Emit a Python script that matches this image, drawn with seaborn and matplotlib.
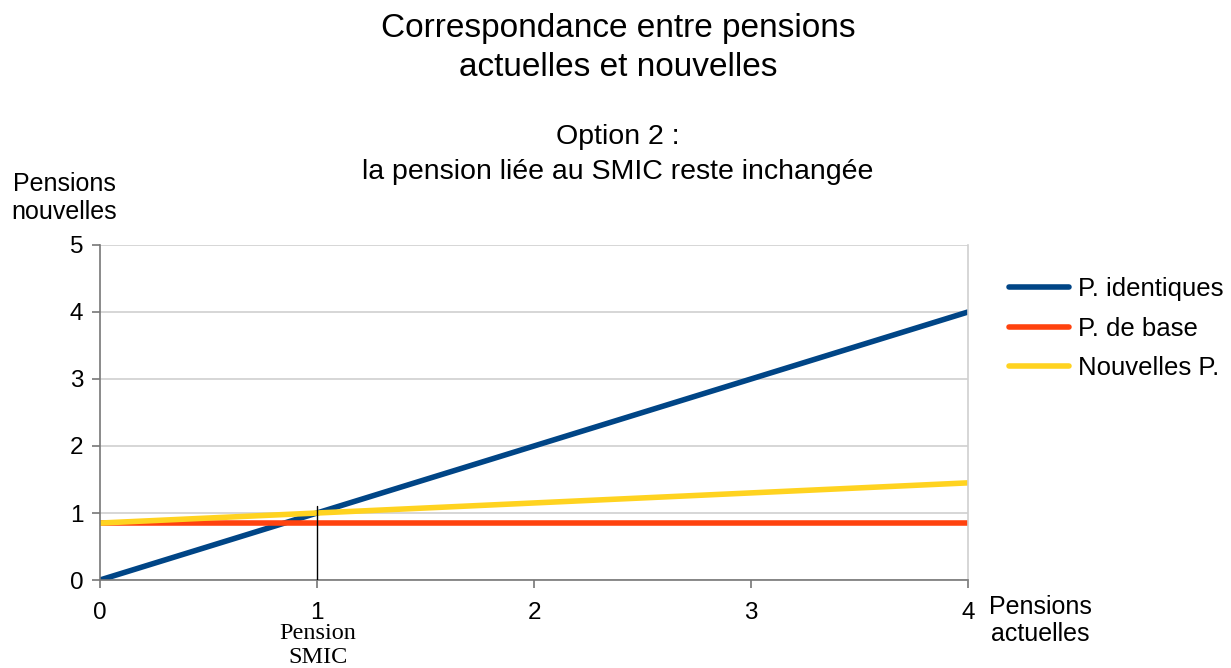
import numpy as np
import pandas as pd
import seaborn as sns
import matplotlib.pyplot as plt

# Données
pensions_actuelles = [0, 1, 2, 3, 4]
p_identiques = [0, 1, 2, 3, 4]
p_de_base = [0.85, 0.85, 0.85, 0.85, 0.85]
nouvelles_p = [0.85, 1.0, 1.15, 1.3, 1.45]
series = ["P. identiques", "P. de base", "Nouvelles P."]
couleurs = ["#004586", "#ff420e", "#ffd320"]
smic_x = 1
smic_haut = 1.1

df = pd.DataFrame({
    "x": pensions_actuelles * 3,
    "y": p_identiques + p_de_base + nouvelles_p,
    "serie": [s for s in series for _ in pensions_actuelles],
})

sns.set_style("white")
plt.rcParams["font.family"] = ["Liberation Sans", "DejaVu Sans"]
plt.rcParams["text.color"] = "black"
plt.rcParams["xtick.labelcolor"] = "black"
plt.rcParams["ytick.labelcolor"] = "black"

fig = plt.figure(figsize=(12.31, 6.68), dpi=100)
ax = fig.add_axes([0.0812, 0.1317, 0.7052, 0.5016])

sns.lineplot(data=df, x="x", y="y", hue="serie", hue_order=series,
             palette=couleurs, linewidth=4, ax=ax, legend=False)

# Trait vertical de la pension SMIC
ax.plot([smic_x, smic_x], [0, smic_haut], color="black", linewidth=1, zorder=5)

ax.set_xlim(0, 4)
ax.set_ylim(0, 5)
ax.set_xticks(range(5))
ax.set_yticks(range(6))
ax.yaxis.grid(True, color="#d0d0d0", linewidth=1.2)
ax.set_axisbelow(True)
ax.tick_params(axis="x", pad=10)
ax.tick_params(axis="y", pad=6)
ax.tick_params(axis="both", direction="out", length=6, width=1.2,
               color="#777777", labelsize=17.5, left=True, bottom=True)
for s in ["left", "bottom"]:
    ax.spines[s].set_color("#777777")
    ax.spines[s].set_linewidth(1.2)
ax.spines["top"].set_visible(False)
ax.spines["right"].set_color("#d0d0d0")
ax.spines["right"].set_linewidth(1.2)
ax.set_xlabel("")
ax.set_ylabel("")

# Textes
fig.text(0.502, 0.98, "Correspondance entre pensions\nactuelles et nouvelles",
         ha="center", va="top", fontsize=24, linespacing=1.3)
fig.text(0.502, 0.815, "Option 2 :\nla pension liée au SMIC reste inchangée",
         ha="center", va="top", fontsize=20.5, linespacing=1.45)
fig.text(0.052, 0.743, "Pensions\nnouvelles", ha="center", va="top",
         fontsize=18, linespacing=1.25)
fig.text(0.845, 0.11, "Pensions\nactuelles", ha="center", va="top",
         fontsize=18, linespacing=1.2)
fig.text(0.2585, 0.068, "Pension\nSMIC", ha="center", va="top",
         fontsize=17.5, family="Liberation Serif", linespacing=1.2)

# Légende
handles = [plt.Line2D([0], [0], color=c, linewidth=4) for c in couleurs]
fig.legend(handles, series, loc="upper left", bbox_to_anchor=(0.82, 0.585),
           frameon=False, fontsize=18.5, handlelength=2.3, handletextpad=0.35,
           labelspacing=0.6, borderaxespad=0, borderpad=0)

fig.savefig("out.png", dpi=100)
